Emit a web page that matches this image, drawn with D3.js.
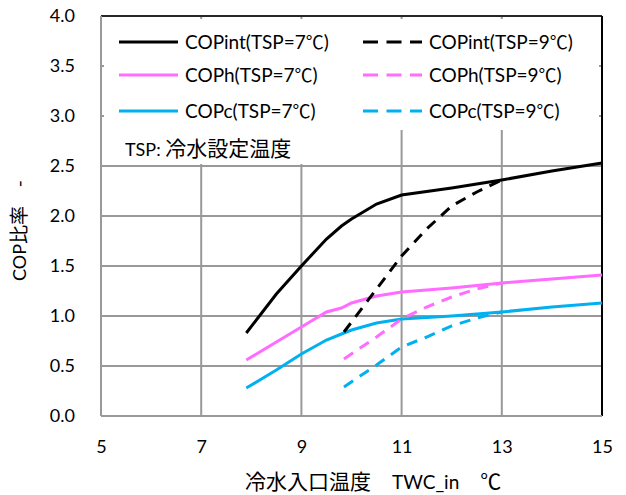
<!DOCTYPE html>
<html>
<head>
<meta charset="utf-8">
<script src="https://cdn.jsdelivr.net/npm/d3@7"></script>
<style>
  body { margin: 0; background: #fff; }
  svg text { font-family: Lato, "Noto Sans CJK JP", sans-serif; fill: #000; }
  .cjk { font-family: "Noto Sans CJK JP", sans-serif; }
</style>
</head>
<body>
<div id="chart"></div>
<script>
// Chilled water inlet temperature (x) for each setpoint
const twc7 = [7.9, 8.5, 9.0, 9.5, 9.8, 10.0, 10.5, 11.0, 12.0, 13.0, 14.0, 15.0];
const twc9 = [9.85, 10.5, 11.0, 11.5, 12.0, 12.5, 13.0];

// COP ratios, TSP = 7 degC
const copInt7 = [0.83, 1.22, 1.50, 1.77, 1.90, 1.97, 2.12, 2.21, 2.28, 2.36, 2.45, 2.53];
const copH7 = [0.56, 0.74, 0.89, 1.04, 1.08, 1.13, 1.20, 1.24, 1.28, 1.33, 1.37, 1.41];
const copC7 = [0.28, 0.46, 0.62, 0.76, 0.82, 0.86, 0.93, 0.97, 1.00, 1.04, 1.09, 1.13];

// COP ratios, TSP = 9 degC
const copInt9 = [0.84, 1.27, 1.60, 1.87, 2.10, 2.24, 2.36];
const copH9 = [0.57, 0.79, 0.97, 1.09, 1.19, 1.27, 1.33];
const copC9 = [0.29, 0.51, 0.69, 0.79, 0.90, 0.98, 1.04];

const xTicks = [5, 7, 9, 11, 13, 15];
const yTicks = [0, 0.5, 1, 1.5, 2, 2.5, 3, 3.5, 4];

const colors = ["#000000", "#ff6cff", "#00b0f0"];

const series = [
  { name: "COPint", tsp: 7, x: twc7, y: copInt7, color: colors[0], dashed: false },
  { name: "COPh", tsp: 7, x: twc7, y: copH7, color: colors[1], dashed: false },
  { name: "COPc", tsp: 7, x: twc7, y: copC7, color: colors[2], dashed: false },
  { name: "COPint", tsp: 9, x: twc9, y: copInt9, color: colors[0], dashed: true },
  { name: "COPh", tsp: 9, x: twc9, y: copH9, color: colors[1], dashed: true },
  { name: "COPc", tsp: 9, x: twc9, y: copC9, color: colors[2], dashed: true }
];

const margin = { top: 16, right: 24, bottom: 79, left: 101 };
const width = 626 - margin.left - margin.right;
const height = 495 - margin.top - margin.bottom;

const svg = d3.select("#chart")
  .append("svg")
  .attr("width", 626)
  .attr("height", 495)
  .append("g")
  .attr("transform", `translate(${margin.left},${margin.top})`);

const x = d3.scaleLinear().domain([5, 15]).range([0, width]);
const y = d3.scaleLinear().domain([0, 4]).range([height, 0]);

// Gridlines
svg.append("g")
  .selectAll("line.hgrid")
  .data(yTicks.slice(1))
  .enter()
  .append("line")
  .attr("x1", 0).attr("x2", width)
  .attr("y1", d => y(d)).attr("y2", d => y(d))
  .attr("stroke", "#999").attr("stroke-width", 2);

svg.append("g")
  .selectAll("line.vgrid")
  .data(xTicks.slice(1, -1))
  .enter()
  .append("line")
  .attr("x1", d => x(d)).attr("x2", d => x(d))
  .attr("y1", 0).attr("y2", height)
  .attr("stroke", "#999").attr("stroke-width", 2);

// Legend background covers the top of the grid
svg.append("rect")
  .attr("x", 3).attr("y", 3)
  .attr("width", width - 6).attr("height", 111)
  .attr("fill", "#fff");
svg.append("rect")
  .attr("x", 3).attr("y", 110)
  .attr("width", 226).attr("height", 38)
  .attr("fill", "#fff");

// Plot frame: gray axes left/bottom, black top/right
svg.append("line").attr("x1", 0).attr("x2", width).attr("y1", 0).attr("y2", 0)
  .attr("stroke", "#000").attr("stroke-width", 1.5);
svg.append("line").attr("x1", width).attr("x2", width).attr("y1", 0).attr("y2", height)
  .attr("stroke", "#000").attr("stroke-width", 2);
svg.append("line").attr("x1", 0).attr("x2", 0).attr("y1", 0).attr("y2", height)
  .attr("stroke", "#999").attr("stroke-width", 2);
svg.append("line").attr("x1", 0).attr("x2", width).attr("y1", height).attr("y2", height)
  .attr("stroke", "#999").attr("stroke-width", 2);

// Tick labels via d3 axes (no domain / tick lines)
const xAxis = svg.append("g")
  .attr("transform", `translate(0,${height})`)
  .call(d3.axisBottom(x).tickValues(xTicks).tickSize(0).tickPadding(24).tickFormat(d3.format("d")));
xAxis.select(".domain").remove();
xAxis.selectAll("text").style("font-size", "18px").style("font-family", null);

const yAxis = svg.append("g")
  .call(d3.axisLeft(y).tickValues(yTicks).tickSize(0).tickPadding(26).tickFormat(d3.format(".1f")));
yAxis.select(".domain").remove();
yAxis.selectAll("text").style("font-size", "18px").style("font-family", null);

// Curves
const line = d3.line()
  .x(d => x(d[0]))
  .y(d => y(d[1]));

svg.append("g")
  .selectAll("path.curve")
  .data(series)
  .enter()
  .append("path")
  .attr("class", "curve")
  .attr("d", s => line(s.x.map((v, i) => [v, s.y[i]])))
  .attr("fill", "none")
  .attr("stroke", s => s.color)
  .attr("stroke-width", 3)
  .attr("stroke-dasharray", s => s.dashed ? "11,8" : null);

// Legend entries
const legend = svg.append("g");
const legendRows = [26, 59, 95];
series.forEach((s, i) => {
  const row = i % 3;
  const col = Math.floor(i / 3);
  const lx = col === 0 ? 18 : 262;
  const ly = legendRows[row];
  legend.append("line")
    .attr("x1", lx).attr("x2", lx + 59)
    .attr("y1", ly).attr("y2", ly)
    .attr("stroke", s.color)
    .attr("stroke-width", 3)
    .attr("stroke-dasharray", s.dashed ? "15,8.5" : null);
  const t = legend.append("text")
    .attr("x", lx + 66)
    .attr("y", ly)
    .attr("dy", "0.35em")
    .style("font-size", "19px");
  t.append("tspan").text(`${s.name}(TSP=${s.tsp}`);
  t.append("tspan").attr("class", "cjk").style("font-size", "18px").text("℃");
  t.append("tspan").text(")");
});

const tsp = svg.append("text")
  .attr("x", 24)
  .attr("y", 134)
  .attr("dy", "0.35em")
  .style("font-size", "18px");
tsp.append("tspan").text("TSP: ");
tsp.append("tspan").attr("class", "cjk").style("font-size", "21px").text("冷水設定温度");

// Axis titles
const xt = svg.append("text")
  .attr("x", 144)
  .attr("y", height + 66)
  .attr("dy", "0.35em")
  .style("font-size", "19px");
xt.append("tspan").attr("class", "cjk").style("font-size", "21px").text("冷水入口温度　");
xt.append("tspan").text("TWC_in");
xt.append("tspan").attr("class", "cjk").style("font-size", "21px").text("　℃");

const yt = svg.append("text")
  .attr("transform", "rotate(-90)")
  .attr("x", -(281 - margin.top))
  .attr("y", -81)
  .attr("dy", "0.35em")
  .style("font-size", "18px");
yt.append("tspan").text("COP");
yt.append("tspan").attr("class", "cjk").style("font-size", "19px").text("比率　-");
</script>
</body>
</html>
